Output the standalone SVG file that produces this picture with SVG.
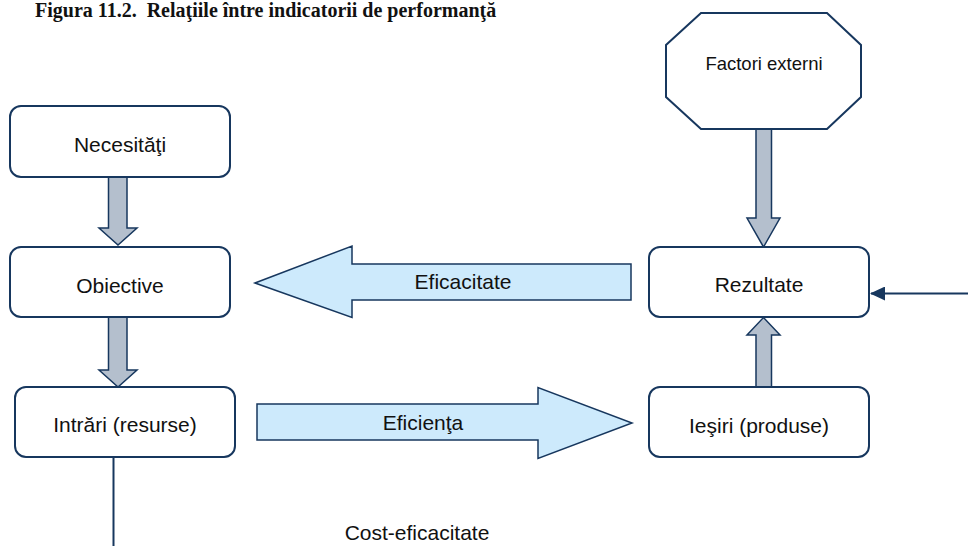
<svg xmlns="http://www.w3.org/2000/svg" width="968" height="546" viewBox="0 0 968 546">
<defs>
<style>
.box{fill:#ffffff;stroke:#17375e;stroke-width:2}
.lbl{font-family:"Liberation Sans",Arial,sans-serif;font-size:21px;fill:#111111;text-anchor:middle}
.garrow{fill:#b4bfcd;stroke:#17375e;stroke-width:1.5;stroke-linejoin:miter}
.barrow{fill:#cdeafc;stroke:#17375e;stroke-width:1.5;stroke-linejoin:miter}
.line{fill:none;stroke:#17375e;stroke-width:2}
.title{font-family:"Liberation Serif","Times New Roman",serif;font-size:20px;font-weight:bold;fill:#111111;white-space:pre}
</style>
<marker id="ah" markerWidth="15" markerHeight="14" refX="14" refY="7" orient="auto" markerUnits="userSpaceOnUse" viewBox="0 0 15 14">
<path d="M0,0 L15,7 L0,14 Z" fill="#17375e"/>
</marker>
</defs>
<rect width="968" height="546" fill="#ffffff"/>
<text class="title" x="35" y="17" xml:space="preserve">Figura 11.2.  Relaţiile între indicatorii de performanţă</text>

<g id="connectors">
<path class="garrow" d="M108.5,177 L127,177 L127,228 L137,228 L118,245 L99,228 L108.5,228 Z"/>
<path class="garrow" d="M108.5,317 L127,317 L127,370 L137,370 L118,387 L99,370 L108.5,370 Z"/>
<path class="garrow" d="M756,129 L771.5,129 L771.5,218 L780,218 L763.5,247 L747,218 L756,218 Z"/>
<path class="garrow" d="M756,387 L771.5,387 L771.5,335 L780,335 L763.5,317.5 L747,335 L756,335 Z"/>
<g id="eficacitate">
<path class="barrow" d="M631,264 L352,264 L352,246 L255,283 L352,317.5 L352,300 L631,300 Z"/>
<text class="lbl" x="463" y="289">Eficacitate</text>
</g>
<g id="eficienta">
<path class="barrow" d="M257,404 L538,404 L538,387.5 L632,423 L538,458.5 L538,440 L257,440 Z"/>
<text class="lbl" x="423" y="430">Eficienţa</text>
</g>
<path class="line" d="M968,293.5 L871,293.5" marker-end="url(#ah)"/>
<path class="line" d="M113.5,457 L113.5,546"/>
<text class="lbl" x="417" y="540">Cost-eficacitate</text>
</g>

<g id="necesitati">
<rect class="box" x="10" y="106" width="220" height="71" rx="11"/>
<text class="lbl" x="120" y="152">Necesităţi</text>
</g>
<g id="obiective">
<rect class="box" x="10" y="247" width="220" height="70" rx="11"/>
<text class="lbl" x="120" y="293">Obiective</text>
</g>
<g id="intrari">
<rect class="box" x="15" y="387" width="220" height="70" rx="11"/>
<text class="lbl" x="125" y="432">Intrări (resurse)</text>
</g>
<g id="factori">
<polygon class="box" points="701,13 827,13 861,45 861,97 827,129 701,129 666,97 666,45"/>
<text class="lbl" x="764" y="70" style="font-size:18.5px">Factori externi</text>
</g>
<g id="rezultate">
<rect class="box" x="649" y="247" width="220" height="70" rx="11"/>
<text class="lbl" x="759" y="292">Rezultate</text>
</g>
<g id="iesiri">
<rect class="box" x="649" y="387" width="220" height="70" rx="11"/>
<text class="lbl" x="759" y="433">Ieşiri (produse)</text>
</g>
</svg>
